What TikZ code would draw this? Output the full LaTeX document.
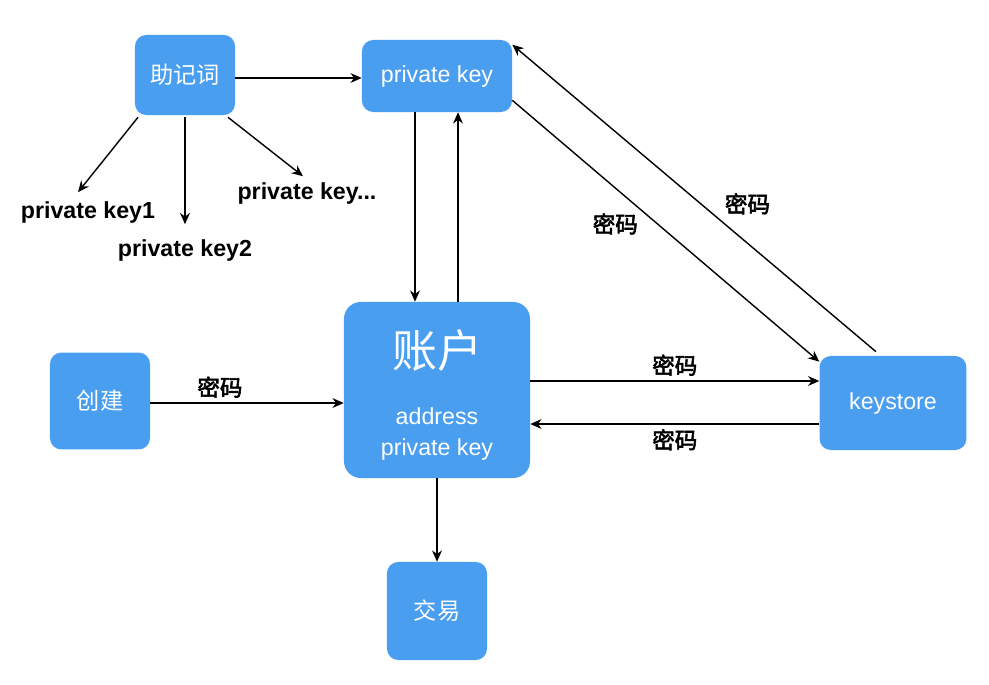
\documentclass[tikz,border=0pt]{standalone}
\usepackage{fontspec}
\setmainfont{Liberation Sans}
\newfontfamily\cjk{Noto Sans CJK SC}[AutoFakeBold=2.5]
\usetikzlibrary{positioning,calc,arrows.meta}
\definecolor{boxblue}{HTML}{4A9EF0}
\tikzset{
  bx/.style={rectangle, rounded corners=8pt, fill=boxblue, text=white, font=\fontsize{16.5}{19}\selectfont, align=center},
  lbl/.style={font=\bfseries\fontsize{16.5}{19}\selectfont, text=black},
  zh/.style={font=\cjk\bfseries\fontsize{16}{19}\selectfont, text=black},
  ar/.style={-{Stealth[length=8pt,width=7pt]}, line width=1pt}
}
\begin{document}
\begin{tikzpicture}[x=0.025cm,y=-0.025cm]
	\useasboundingbox[fill=white] (0,0) rectangle (989,685);
	\node[bx, minimum width=2.5cm, minimum height=2cm] (mnem) at (185,75) {\cjk 助记词};
	\node[bx, minimum width=3.75cm, minimum height=1.8cm] (pk) at (437,76) {private key};
	\node[bx, minimum width=4.65cm, minimum height=4.4cm, rounded corners=12pt] (acct) at (437,390) {};
	\node[font=\cjk\fontsize{32}{36}\selectfont, text=white] (acctt) at (437,350) {账户};
	\node[bx, font=\fontsize{16.5}{22}\selectfont] (acctk) at (437,434) {address\\private key};
	\node[bx, minimum width=2.5cm, minimum height=2.42cm] (create) at (100,401) {\cjk 创建};
	\node[bx, minimum width=3.67cm, minimum height=2.35cm] (ks) at (893,403) {keystore};
	\node[bx, minimum width=2.5cm, minimum height=2.45cm] (trade) at (437,611) {\cjk 交易};
	\node[lbl] (k1) at (88,212) {private key1};
	\node[lbl] (k2) at (185,250) {private key2};
	\node[lbl] (k3) at (307,193) {private key...};
	%
	\draw[ar] (mnem.east |- 0,78) -- (pk.west |- 0,78);
	\draw[ar] ($(mnem.south)+(-47,2)$) -- ($(k1.north)+(-10,-4)$);
	\draw[ar] ($(mnem.south)+(0,2)$) -- ($(k2.north)+(0,-10)$);
	\draw[ar] ($(mnem.south)+(43,2)$) -- ($(k3.north)+(-4,-1)$);
	\draw[ar] ($(pk.south)+(-22,0)$) -- ($(acct.north)+(-22,0)$);
	\draw[ar] ($(acct.north)+(21,0)$) -- ($(pk.south)+(21,0)$);
	\draw[ar] ($(pk.south east)+(0,-12)$) -- node[zh, pos=0.42, below left=-2pt] {密码} ($(ks.north west)+(0,6)$);
	\draw[ar] ($(ks.north)+(-17,-4)$) -- node[zh, pos=0.43, above right=0pt] {密码} ($(pk.north east)+(0,5)$);
	\draw[ar] ($(acct.east)+(0,-9)$) -- node[zh, above] {密码} ($(ks.west)+(0,-22)$);
	\draw[ar] ($(ks.west)+(0,21)$) -- node[zh, below] {密码} ($(acct.east)+(0,34)$);
	\draw[ar] ($(create.east)+(0,2)$) -- node[zh, above, pos=0.36] {密码} ($(acct.west)+(0,13)$);
	\draw[ar] (acct.south) -- (trade.north);
\end{tikzpicture}
\end{document}
